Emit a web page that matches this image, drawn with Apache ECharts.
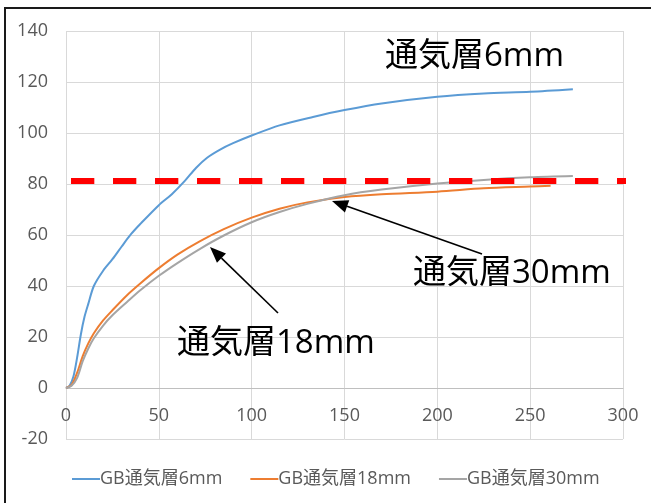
<!DOCTYPE html>
<html>
<head>
<meta charset="utf-8">
<script src="https://cdn.jsdelivr.net/npm/echarts@6/dist/echarts.min.js"></script>
<style>
html,body{margin:0;padding:0;background:#fff;}
#c{width:651px;height:503px;}
</style>
</head>
<body>
<div id="c"></div>
<script>
const seriesNames = ['GB通気層6mm', 'GB通気層18mm', 'GB通気層30mm'];

const x6 = [0, 2, 4, 6, 8, 10, 12, 15, 20, 25, 30, 35, 40, 50, 57, 64, 70, 76, 83, 90, 100, 115, 133, 150, 170, 200, 225, 250, 273];
const y6 = [0, 1, 4.5, 12, 21, 28, 33, 40, 46, 50.5, 55.5, 60.3, 64.3, 71.7, 76, 81.2, 86.3, 90.3, 93.5, 96, 99, 103, 106.3, 109, 111.6, 114.2, 115.5, 116.2, 117.2];

const x18 = [0, 3, 6, 9, 12, 15, 20, 25, 33, 40, 50, 60, 72, 85, 100, 115, 130, 150, 170, 200, 225, 250, 261];
const y18 = [0, 1.2, 6, 12.5, 17.5, 21.5, 26.5, 30.5, 36.5, 41, 47, 52.3, 57.5, 62.3, 66.8, 70.3, 72.8, 74.9, 76, 77, 78.3, 79, 79.3];

const x30 = [0, 3, 6, 9, 12, 15, 20, 25, 33, 40, 50, 60, 72, 85, 100, 115, 130, 150, 170, 200, 225, 250, 273];
const y30 = [0, 0.9, 4, 10.5, 15.5, 19.5, 24.5, 28.5, 33.8, 38.3, 44, 49, 54.5, 59.8, 65, 69, 72.2, 75.6, 77.8, 80.2, 81.6, 82.6, 83.1];

const refX = [2.7, 308.6];
const refY = [81.2, 81.2];

const xTicks = [0, 50, 100, 150, 200, 250, 300];
const yTicks = [-20, 0, 20, 40, 60, 80, 100, 120, 140];

const colors = ['#5B9BD5', '#ED7D31', '#A5A5A5'];
const FONT = '"Open Sans", "Noto Sans CJK JP", sans-serif';

function pairs(xs, ys) { return xs.map((x, i) => [x, ys[i]]); }

function arrow(tail, tip) {
  const dx = tip[0] - tail[0], dy = tip[1] - tail[1];
  const len = Math.sqrt(dx * dx + dy * dy);
  const ux = dx / len, uy = dy / len;
  const hl = 16, hw = 6.5;
  const bx = tip[0] - ux * hl, by = tip[1] - uy * hl;
  return [
    { type: 'line', shape: { x1: tail[0], y1: tail[1], x2: bx, y2: by }, style: { stroke: '#000', lineWidth: 1.6 }, z: 100 },
    { type: 'polygon', shape: { points: [tip, [bx - uy * hw, by + ux * hw], [bx + uy * hw, by - ux * hw]] }, style: { fill: '#000' }, z: 100 }
  ];
}

const chart = echarts.init(document.getElementById('c'), null, { renderer: 'canvas' });

const option = {
  backgroundColor: '#fff',
  animation: false,
  textStyle: { fontFamily: FONT },
  grid: { left: 66, right: 28, top: 31, bottom: 64, containLabel: false },
  legend: {
    data: seriesNames.map((n, i) => ({ name: n, icon: 'rect', itemStyle: { color: colors[i] } })),
    bottom: 10,
    left: 67,
    itemWidth: 28,
    itemHeight: 2,
    itemGap: 28,
    textStyle: { color: '#595959', fontSize: 18, fontFamily: FONT, padding: [0, 0, 0, -5] }
  },
  xAxis: {
    type: 'value', min: 0, max: 300, interval: 50,
    offset: -51,
    axisLine: { onZero: false, lineStyle: { color: '#BFBFBF', width: 1 } },
    axisTick: { show: false },
    axisLabel: { color: '#595959', fontSize: 18, fontFamily: FONT, margin: 19 },
    splitLine: { show: true, lineStyle: { color: '#D9D9D9', width: 1 } }
  },
  yAxis: {
    type: 'value', min: -20, max: 140, interval: 20,
    axisLine: { show: false },
    axisTick: { show: false },
    axisLabel: { color: '#595959', fontSize: 18, fontFamily: FONT, margin: 18 },
    splitLine: { show: true, lineStyle: { color: '#D9D9D9', width: 1 } }
  },
  series: [
    { name: seriesNames[0], type: 'line', data: pairs(x6, y6), showSymbol: false, smooth: 0.3, lineStyle: { color: colors[0], width: 2 }, itemStyle: { color: colors[0] }, z: 3 },
    { name: seriesNames[1], type: 'line', data: pairs(x18, y18), showSymbol: false, smooth: 0.3, lineStyle: { color: colors[1], width: 2 }, itemStyle: { color: colors[1] }, z: 3 },
    { name: seriesNames[2], type: 'line', data: pairs(x30, y30), showSymbol: false, smooth: 0.3, lineStyle: { color: colors[2], width: 2 }, itemStyle: { color: colors[2] }, z: 4 },
    { name: 'ref', type: 'line', data: pairs(refX, refY), showSymbol: false, clip: false, silent: true,
      lineStyle: { color: '#FF0000', width: 6, type: [23.3, 18.7] }, z: 5 }
  ],
  graphic: [
    { type: 'rect', shape: { x: 5, y: 8, width: 700, height: 600 }, style: { fill: 'none', stroke: '#1a1a1a', lineWidth: 2 }, z: 200, silent: true },
    { type: 'text', left: 385, top: 40, style: { text: '通気層6mm', font: '33px ' + FONT, fill: '#000' }, z: 100 },
    { type: 'text', left: 413, top: 257, style: { text: '通気層30mm', font: '33px ' + FONT, fill: '#000' }, z: 100 },
    { type: 'text', left: 177, top: 327, style: { text: '通気層18mm', font: '33px ' + FONT, fill: '#000' }, z: 100 },
    ...arrow([278, 313], [210, 247]),
    ...arrow([482, 254], [332, 201])
  ]
};
chart.setOption(option);
</script>
</body>
</html>
